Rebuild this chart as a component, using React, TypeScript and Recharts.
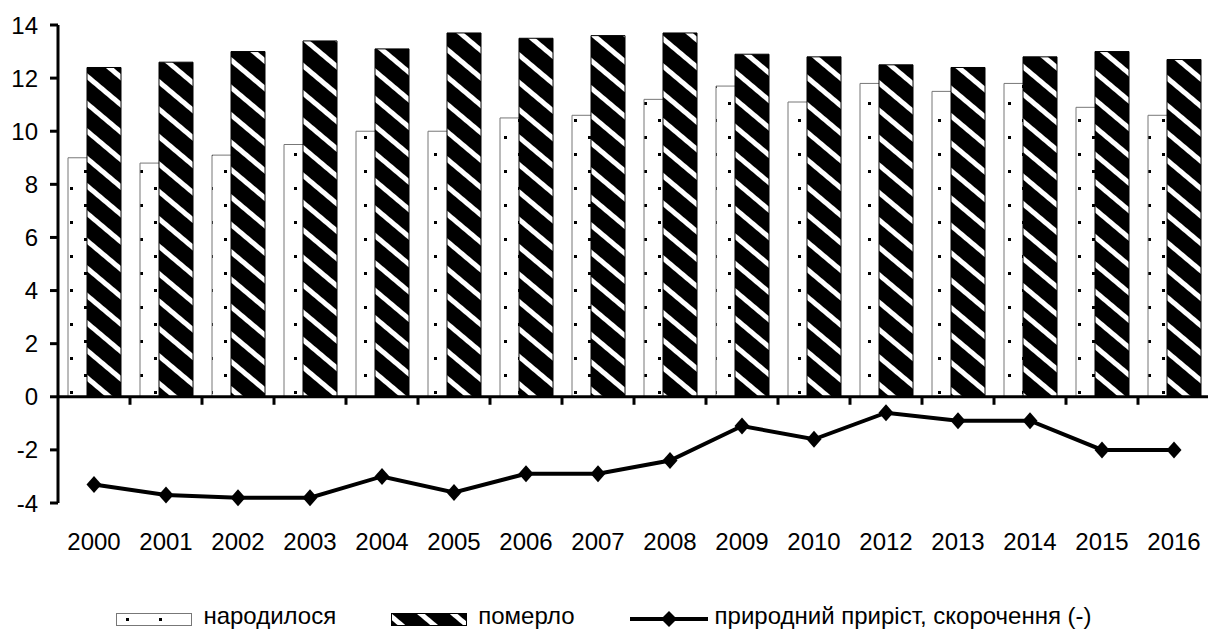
import React from 'react';
import {
  ComposedChart,
  Bar,
  Line,
  XAxis,
  YAxis,
  Legend,
  ReferenceLine
} from 'recharts';

const years = ['2000', '2001', '2002', '2003', '2004', '2005', '2006', '2007', '2008', '2009', '2010', '2012', '2013', '2014', '2015', '2016'];
const born = [9.0, 8.8, 9.1, 9.5, 10.0, 10.0, 10.5, 10.6, 11.2, 11.7, 11.1, 11.8, 11.5, 11.8, 10.9, 10.6];
const died = [12.4, 12.6, 13.0, 13.4, 13.1, 13.7, 13.5, 13.6, 13.7, 12.9, 12.8, 12.5, 12.4, 12.8, 13.0, 12.7];
const growth = [-3.3, -3.7, -3.8, -3.8, -3.0, -3.6, -2.9, -2.9, -2.4, -1.1, -1.6, -0.6, -0.9, -0.9, -2.0, -2.0];
const yTicks = [-4, -2, 0, 2, 4, 6, 8, 10, 12, 14];

const seriesNames = {
  born: 'народилося',
  died: 'померло',
  growth: 'природний приріст, скорочення (-)'
};

const data = years.map((year, i) => ({
  year,
  born: born[i],
  died: died[i],
  growth: growth[i]
}));

const FONT = '"Liberation Sans", Arial, sans-serif';

// diamond marker for the line
const Diamond = ({ cx, cy }: any) => {
  if (cx == null || cy == null) return null;
  return (
    <path
      d={`M${cx},${cy - 8.5} L${cx + 7.5},${cy} L${cx},${cy + 8.5} L${cx - 7.5},${cy} Z`}
      fill="#000"
    />
  );
};

// zero line acts as the category axis, with ticks between categories
const ZeroAxis = (props: any) => {
  const { x1, y1, x2 } = props;
  const band = (x2 - x1) / years.length;
  return (
    <g>
      <line x1={x1} y1={y1} x2={x2} y2={y1} stroke="#000" strokeWidth={3} />
      {years.map((_, i) => {
        const x = x1 + band * (i + 1);
        return <line key={i} x1={x} y1={y1} x2={x} y2={y1 + 8} stroke="#000" strokeWidth={3} />;
      })}
    </g>
  );
};

const YearTick = ({ x, y, payload }: any) => (
  <text x={x} y={y} dy={47} textAnchor="middle" fontSize={24} fill="#000" fontFamily={FONT}>
    {payload.value}
  </text>
);

const LegendKey = ({ kind }: { kind: string }) => {
  if (kind === 'growth') {
    return (
      <svg width={78} height={18}>
        <line x1={0} y1={9} x2={78} y2={9} stroke="#000" strokeWidth={4} />
        <path d="M39,1 L47,9 L39,17 L31,9 Z" fill="#000" />
      </svg>
    );
  }
  return (
    <svg width={76} height={13}>
      <rect
        x={0.5}
        y={0.5}
        width={75}
        height={12}
        fill={kind === 'born' ? 'url(#dotsLegend)' : 'url(#stripesLegend)'}
        stroke={kind === 'born' ? '#777' : '#000'}
      />
    </svg>
  );
};

const CustomLegend = () => {
  const items = ['born', 'died', 'growth'];
  return (
    <div
      style={{
        height: 70,
        display: 'flex',
        justifyContent: 'center',
        alignItems: 'flex-end',
        paddingBottom: 3,
        boxSizing: 'border-box',
        fontFamily: FONT,
        fontSize: 24,
        color: '#000'
      }}
    >
      {items.map((k, i) => (
        <div
          key={k}
          style={{
            display: 'flex',
            alignItems: 'center',
            lineHeight: '28px',
            marginRight: i < items.length - 1 ? 55 : 0
          }}
        >
          <span style={{ display: 'inline-flex', position: 'relative', top: 3, marginRight: k === 'growth' ? 7 : 11 }}>
            <LegendKey kind={k} />
          </span>
          <span>{(seriesNames as any)[k]}</span>
        </div>
      ))}
    </div>
  );
};

const Patterns = () => (
  <svg style={{ position: 'absolute', width: 0, height: 0 }}>
    <defs>
      <pattern id="dots" patternUnits="userSpaceOnUse" width={28} height={34}>
        <rect width={28} height={34} fill="#fff" />
        <rect x={0} y={0} width={3} height={3} fill="#000" />
        <rect x={14} y={17} width={3} height={3} fill="#000" />
      </pattern>
      <pattern id="stripes" patternUnits="userSpaceOnUse" width={21} height={21} patternTransform="rotate(40)">
        <rect width={21} height={21} fill="#000" />
        <rect x={0} y={0} width={21} height={5} fill="#fff" />
      </pattern>
      <pattern id="dotsLegend" patternUnits="userSpaceOnUse" width={33} height={12}>
        <rect width={33} height={12} fill="#fff" />
        <rect x={10} y={5} width={3} height={3} fill="#000" />
      </pattern>
      <pattern id="stripesLegend" patternUnits="userSpaceOnUse" width={21} height={21} patternTransform="rotate(40)">
        <rect width={21} height={21} fill="#000" />
        <rect x={0} y={0} width={21} height={5} fill="#fff" />
      </pattern>
    </defs>
  </svg>
);

export default function App() {
  return (
    <div
      style={{
        position: 'absolute',
        left: 0,
        top: 0,
        width: 1208,
        height: 633,
        overflow: 'hidden',
        background: '#fff',
        fontFamily: FONT
      }}
    >
      <Patterns />
      <ComposedChart
        width={1210}
        height={633}
        data={data}
        margin={{ top: 25, right: 0, bottom: 0, left: 0 }}
        barSize={34}
        barGap={-15}
      >
        <XAxis
          dataKey="year"
          axisLine={false}
          tickLine={false}
          tickSize={0}
          tickMargin={0}
          height={60}
          interval={0}
          tick={<YearTick />}
        />
        <YAxis
          width={58}
          domain={[-4, 14]}
          ticks={yTicks}
          interval={0}
          axisLine={{ stroke: '#000', strokeWidth: 3 }}
          tickLine={{ stroke: '#000', strokeWidth: 3 }}
          tickSize={8}
          tickMargin={12}
          tick={{ fill: '#000', fontSize: 24, fontFamily: FONT }}
        />
        <Bar dataKey="born" name={seriesNames.born} fill="url(#dots)" stroke="#777" strokeWidth={1} isAnimationActive={false} />
        <Bar dataKey="died" name={seriesNames.died} fill="url(#stripes)" stroke="#000" strokeWidth={1} isAnimationActive={false} />
        <ReferenceLine y={0} shape={(p: any) => <ZeroAxis {...p} />} />
        <Line
          type="linear"
          dataKey="growth"
          name={seriesNames.growth}
          stroke="#000"
          strokeWidth={4}
          dot={<Diamond />}
          activeDot={false}
          isAnimationActive={false}
        />
        <Legend verticalAlign="bottom" wrapperStyle={{ left: 0, width: 1208 }} content={<CustomLegend />} />
      </ComposedChart>
    </div>
  );
}
